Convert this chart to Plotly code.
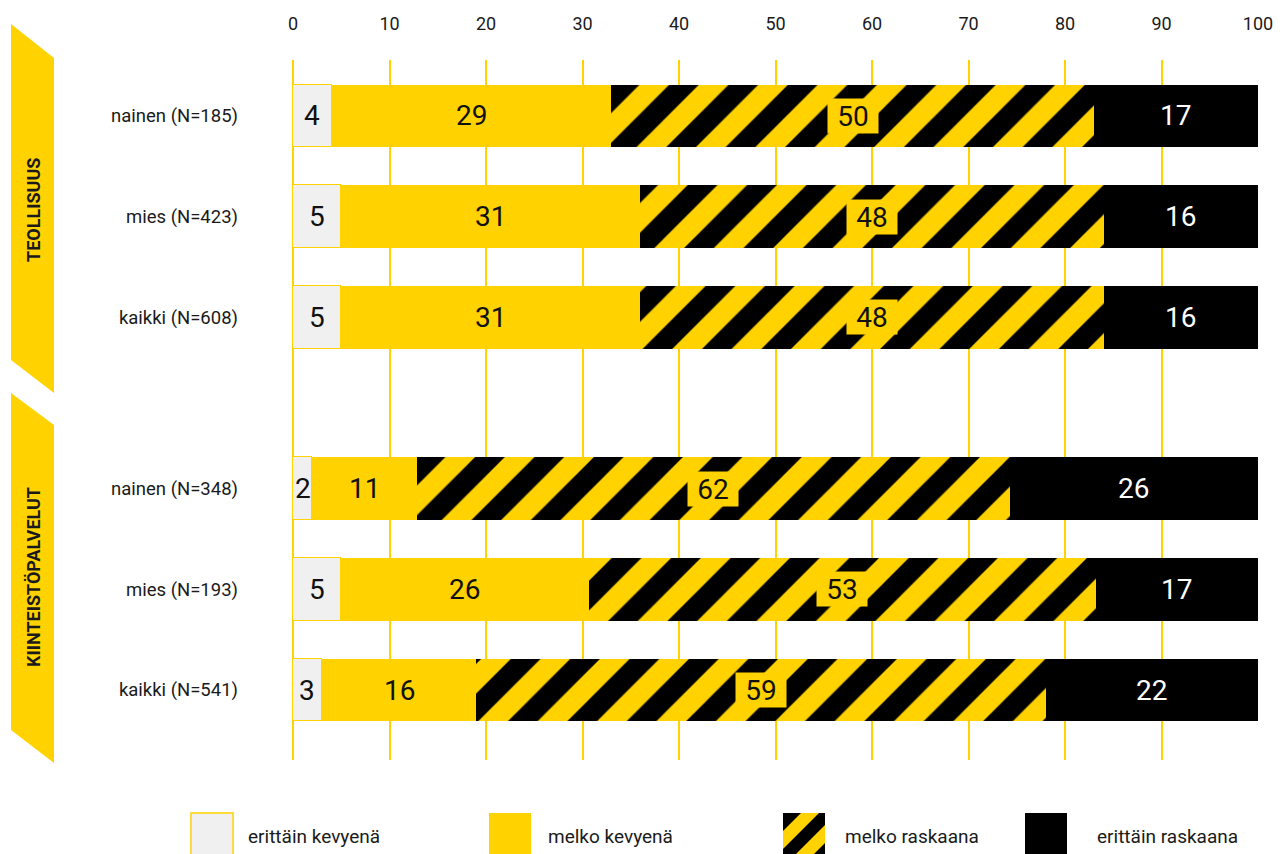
import plotly.graph_objects as go

# ---------------- data ----------------
groups = ["TEOLLISUUS", "KIINTEISTÖPALVELUT"]
row_labels = ["nainen (N=185)", "mies (N=423)", "kaikki (N=608)",
              "nainen (N=348)", "mies (N=193)", "kaikki (N=541)"]
row_group = [0, 0, 0, 1, 1, 1]
erittain_kevyena = [4, 5, 5, 2, 5, 3]
melko_kevyena = [29, 31, 31, 11, 26, 16]
melko_raskaana = [50, 48, 48, 62, 53, 59]
erittain_raskaana = [17, 16, 16, 26, 17, 22]
series_names = ["erittäin kevyenä", "melko kevyenä", "melko raskaana", "erittäin raskaana"]
x_ticks = [0, 10, 20, 30, 40, 50, 60, 70, 80, 90, 100]

# ---------------- layout helpers ----------------
W, H = 1285, 854
ML, MR, MT, MB = 293, 27, 60, 94
PW, PH = W - ML - MR, H - MT - MB


def px(x):
    return (x - ML) / PW


def py(y):
    return (H - MB - y) / PH


YELLOW = "#FFD200"
GREY = "#F0F0F0"
BLACK = "#000000"
TXT = "#1a1a1a"
FONT = "Roboto"

GAP = 0.7
ypos = [i + GAP * g for i, g in enumerate(row_group)]
series = [erittain_kevyena, melko_kevyena, melko_raskaana, erittain_raskaana]
n = len(row_labels)
totals = [sum(s[i] for s in series) for i in range(n)]
shares = [[s[i] * 100.0 / totals[i] for i in range(n)] for s in series]

stripe = dict(shape="/", fgcolor=BLACK, bgcolor=YELLOW, size=42, solidity=0.5,
              fillmode="replace", fgopacity=1)
styles = [
    dict(color=GREY, line=dict(color=YELLOW, width=1)),
    dict(color=YELLOW, line=dict(width=0)),
    dict(color=YELLOW, pattern=stripe, line=dict(width=0)),
    dict(color=BLACK, line=dict(width=0)),
]

fig = go.Figure()
for k in range(4):
    fig.add_trace(go.Bar(
        y=ypos, x=shares[k], orientation="h", name=series_names[k],
        marker=styles[k], width=0.62, hoverinfo="skip", showlegend=False,
    ))

annotations = []
for i in range(n):
    start = 0.0
    for k in range(4):
        w = shares[k][i]
        a = dict(x=start + w / 2, y=ypos[i], xref="x", yref="y", showarrow=False,
                 xanchor="center", yanchor="middle",
                 text=str(series[k][i]),
                 font=dict(family=FONT, size=28, color="#ffffff" if k == 3 else "#111111"))
        if k == 2:
            a.update(bgcolor=YELLOW, borderpad=0, width=50, height=34, align="center")
        annotations.append(a)
        start += w

# group chevrons + labels
chevrons = [(24, 393, 58, 360), (393, 763, 425, 730)]
shapes = []
for g, (ytl, ybr, ytr, ybl) in enumerate(chevrons):
    path = "M{},{} L{},{} L{},{} L{},{} Z".format(
        px(11), py(ytl), px(54), py(ytr), px(54), py(ybr), px(11), py(ybl))
    shapes.append(dict(type="path", path=path, xref="paper", yref="paper",
                       fillcolor=YELLOW, line=dict(width=0), layer="above"))
group_centers = [210, 577]
for g, name in enumerate(groups):
    annotations.append(dict(x=px(33), y=py(group_centers[g]), xref="paper", yref="paper",
                            xanchor="center", yanchor="middle",
                            text="<b>" + name + "</b>", textangle=-90, showarrow=False,
                            font=dict(family=FONT, size=18, color=TXT)))

# ---------------- legend (drawn manually) ----------------
leg_box_x = [191, 489, 783, 1025]
leg_text_x = [246, 546, 843, 1095]
box_top, box_s = 813, 42


def rect(x0, y0, x1, y1, **kw):
    d = dict(type="rect", xref="paper", yref="paper",
             x0=px(x0), x1=px(x1), y0=py(y1), y1=py(y0), layer="above")
    d.update(kw)
    return d


def clip(poly, a, b, c):
    out = []
    m = len(poly)
    for j in range(m):
        P, Q = poly[j], poly[(j + 1) % m]
        fp = a * P[0] + b * P[1] - c
        fq = a * Q[0] + b * Q[1] - c
        if fp <= 0:
            out.append(P)
        if (fp < 0 < fq) or (fq < 0 < fp):
            t = fp / (fp - fq)
            out.append((P[0] + t * (Q[0] - P[0]), P[1] + t * (Q[1] - P[1])))
    return out


for k in range(4):
    x0 = leg_box_x[k]
    if k == 0:
        shapes.append(rect(x0, box_top, x0 + box_s, box_top + box_s, fillcolor=GREY,
                           line=dict(color=YELLOW, width=1.5)))
    elif k == 1:
        shapes.append(rect(x0, box_top, x0 + box_s, box_top + box_s, fillcolor=YELLOW,
                           line=dict(width=0)))
    elif k == 2:
        shapes.append(rect(x0, box_top, x0 + box_s, box_top + box_s, fillcolor=YELLOW,
                           line=dict(width=0)))
        sq = [(0, 0), (box_s, 0), (box_s, box_s), (0, box_s)]
        for c0 in range(0, 2 * box_s, 36):
            poly = clip(clip(sq, -1, -1, -c0), 1, 1, c0 + 18)
            if len(poly) < 3:
                continue
            path = "M" + " L".join("{},{}".format(px(x0 + u), py(box_top + v)) for u, v in poly) + " Z"
            shapes.append(dict(type="path", path=path, xref="paper", yref="paper",
                               fillcolor=BLACK, line=dict(width=0), layer="above"))
    else:
        shapes.append(rect(x0, box_top, x0 + box_s, box_top + box_s, fillcolor=BLACK,
                           line=dict(width=0)))
    annotations.append(dict(x=px(leg_text_x[k]), y=py(box_top + 23), xref="paper", yref="paper",
                            xanchor="left", yanchor="middle", text=series_names[k],
                            showarrow=False, font=dict(family=FONT, size=19, color=TXT)))

fig.update_layout(
    width=W, height=H, barmode="stack", bargap=0,
    margin=dict(l=ML, r=MR, t=MT, b=MB, pad=0),
    paper_bgcolor="white", plot_bgcolor="white",
    font=dict(family=FONT, color=TXT),
    shapes=shapes, annotations=annotations, showlegend=False,
    xaxis=dict(range=[0, 100], side="top", tickvals=x_ticks, ticks="",
               showgrid=True, gridcolor=YELLOW, gridwidth=2,
               zeroline=True, zerolinecolor=YELLOW, zerolinewidth=2,
               showline=False, ticklabelstandoff=25,
               tickfont=dict(family=FONT, size=18, color=TXT), fixedrange=True),
    yaxis=dict(range=[6.395, -0.556], tickvals=ypos, ticktext=row_labels, ticks="",
               showgrid=False, zeroline=False, showline=False, ticklabelstandoff=54,
               tickfont=dict(family=FONT, size=18.5, color=TXT), fixedrange=True),
)

fig.write_html("out.html")
